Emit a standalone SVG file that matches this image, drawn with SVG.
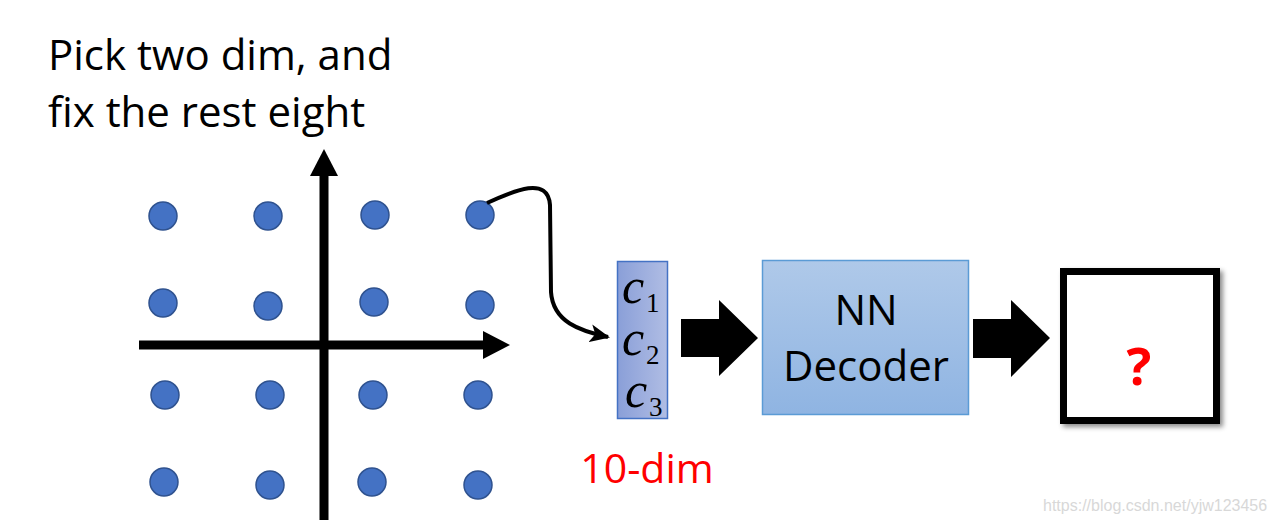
<svg xmlns="http://www.w3.org/2000/svg" width="1275" height="523" viewBox="0 0 1275 523">
<style>
  .dot { fill: #4472c4; stroke: #2f528f; stroke-width: 1.5; }
  .axis { stroke: #000; stroke-width: 9; fill: none; }
  .lbl { font-family: "Open Sans", "Liberation Sans", sans-serif; fill: #000; }
  .math { font-family: "Liberation Serif", serif; font-style: italic; fill: #000; }
  .sub { font-family: "Liberation Serif", serif; fill: #000; }
</style>
<defs>
  <linearGradient id="gc" x1="0" y1="0" x2="1" y2="0">
    <stop offset="0" stop-color="#8a9fd8"/>
    <stop offset="1" stop-color="#b0bde4"/>
  </linearGradient>
  <linearGradient id="gd" x1="0" y1="0" x2="0" y2="1">
    <stop offset="0" stop-color="#afc9e9"/>
    <stop offset="1" stop-color="#8fb4e2"/>
  </linearGradient>
  <marker id="ah" markerWidth="20" markerHeight="18" refX="18" refY="9" orient="auto" markerUnits="userSpaceOnUse">
    <path d="M0,0 L20,9 L0,18 L5,9 Z" fill="#000"/>
  </marker>
  <filter id="sh" x="-10%" y="-10%" width="130%" height="130%">
    <feDropShadow dx="3" dy="3" stdDeviation="2.5" flood-color="#000" flood-opacity="0.45"/>
  </filter>
</defs>

<g id="title">
  <text class="lbl" x="48" y="70" font-size="42">Pick two dim, and</text>
  <text class="lbl" x="48" y="127" font-size="42">fix the rest eight</text>
</g>

<g id="axes">
  <line class="axis" x1="324" y1="520" x2="324" y2="172"/>
  <polygon points="324,149 310,176 338,176" fill="#000"/>
  <line class="axis" x1="139" y1="345" x2="486" y2="345"/>
  <polygon points="510,345 483,331 483,359" fill="#000"/>
</g>

<g id="dots">
  <circle class="dot" cx="163" cy="216" r="14"/>
  <circle class="dot" cx="268" cy="216" r="14"/>
  <circle class="dot" cx="375" cy="215" r="14"/>
  <circle class="dot" cx="480" cy="215" r="14"/>
  <circle class="dot" cx="163" cy="303" r="14"/>
  <circle class="dot" cx="268" cy="306" r="14"/>
  <circle class="dot" cx="374" cy="302" r="14"/>
  <circle class="dot" cx="480" cy="305" r="14"/>
  <circle class="dot" cx="165" cy="395" r="14"/>
  <circle class="dot" cx="270" cy="395" r="14"/>
  <circle class="dot" cx="373" cy="395" r="14"/>
  <circle class="dot" cx="478" cy="395" r="14"/>
  <circle class="dot" cx="164" cy="482" r="14"/>
  <circle class="dot" cx="270" cy="485" r="14"/>
  <circle class="dot" cx="372" cy="482" r="14"/>
  <circle class="dot" cx="478" cy="485" r="14"/>
</g>

<g id="connectors">
  <path d="M487,203 C515,190 548,176 550,205 L551,292 C553,322 580,331 608,337" fill="none" stroke="#000" stroke-width="4" marker-end="url(#ah)"/>
  <polygon points="681,319 719,319 719,300 758,338 719,376 719,357 681,357" fill="#000"/>
  <polygon points="973,319 1011,319 1011,300 1050,338 1011,377 1011,358 973,358" fill="#000"/>
</g>

<g id="code">
  <rect x="617.5" y="261.5" width="50" height="157" fill="url(#gc)" stroke="#4472c4" stroke-width="1.5"/>
  <text class="math" x="622" y="303" font-size="50">c</text>
  <text class="sub" x="646" y="312" font-size="27">1</text>
  <text class="math" x="622" y="355" font-size="50">c</text>
  <text class="sub" x="646" y="364" font-size="27">2</text>
  <text class="math" x="625" y="407" font-size="50">c</text>
  <text class="sub" x="649" y="416" font-size="27">3</text>
</g>

<g id="dimlabel">
  <text class="lbl" x="647" y="483" font-size="41" style="fill:#ff0000" text-anchor="middle">10-dim</text>
</g>

<g id="decoder">
  <rect x="762.5" y="260.5" width="206" height="154" fill="url(#gd)" stroke="#5b9bd5" stroke-width="1.5"/>
  <text class="lbl" x="866" y="325" font-size="42" text-anchor="middle">NN</text>
  <text class="lbl" x="866" y="381" font-size="42" text-anchor="middle">Decoder</text>
</g>

<g id="output">
  <rect x="1063.5" y="271.5" width="153" height="149" fill="#fff" stroke="#000" stroke-width="7" filter="url(#sh)"/>
  <text x="1139" y="385" font-family="'Open Sans', 'Liberation Sans', sans-serif" font-weight="bold" font-size="52" fill="#ff0000" text-anchor="middle">?</text>
</g>

<g id="watermark">
  <text x="1043" y="511" font-family="'Liberation Sans', Arial, sans-serif" font-size="16" fill="#d8d8d8">https://blog.csdn.net/yjw123456</text>
</g>
</svg>
